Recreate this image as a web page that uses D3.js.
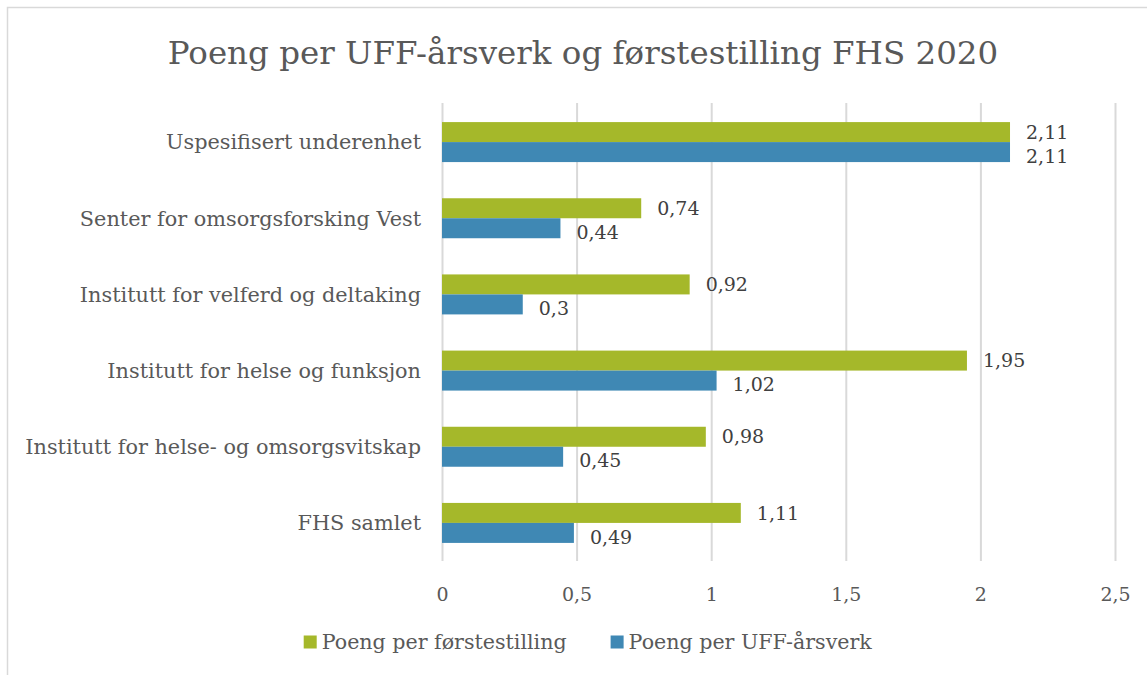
<!doctype html>
<html>
<head>
<meta charset="utf-8">
<style>
  body { margin: 0; background: #fff; }
  svg { display: block; font-family: Georgia, "DejaVu Serif", serif; }
  .axis path { display: none; }
  .axis line { stroke: #d9d9d9; stroke-width: 2px; }
  .axis text { fill: #595959; font-size: 19px; }
</style>
<script src="https://d3js.org/d3.v7.min.js"></script>
</head>
<body>
<script>
// data
var categories = [
  'Uspesifisert underenhet',
  'Senter for omsorgsforsking Vest',
  'Institutt for velferd og deltaking',
  'Institutt for helse og funksjon',
  'Institutt for helse- og omsorgsvitskap',
  'FHS samlet'
];
var seriesNames = ['Poeng per førstestilling', 'Poeng per UFF-årsverk'];
var perForstestilling = [2.11, 0.74, 0.92, 1.95, 0.98, 1.11];
var perUffArsverk = [2.11, 0.44, 0.30, 1.02, 0.45, 0.49];
var xTicks = [0, 0.5, 1, 1.5, 2, 2.5];

var W = 1147, H = 675;
var margin = { top: 104, right: 32, bottom: 114, left: 442 };
var width = W - margin.left - margin.right;
var height = H - margin.top - margin.bottom;

var color = d3.scaleOrdinal().domain(seriesNames).range(['#a5b82a', '#3f88b4']);
var comma = d => String(d).replace('.', ',');

var svg = d3.select('body').append('svg')
  .attr('width', W)
  .attr('height', H);

// chart frame (runs off the right and bottom edge)
svg.append('rect')
  .attr('x', 7.5).attr('y', 7.5)
  .attr('width', W + 50).attr('height', H + 50)
  .attr('fill', '#fff')
  .attr('stroke', '#d9d9d9')
  .attr('stroke-width', 1.5);

// title
svg.append('text')
  .text('Poeng per UFF-årsverk og førstestilling FHS 2020')
  .attr('x', 583).attr('y', 64)
  .attr('text-anchor', 'middle')
  .style('font-size', '32.5px')
  .style('fill', '#595959');

var g = svg.append('g')
  .attr('transform', `translate(${margin.left}, ${margin.top})`);

var x = d3.scaleLinear().domain([0, 2.5]).range([0, width]);
var y = d3.scaleBand().domain(categories).range([0, height])
  .paddingInner(0.475).paddingOuter(0.2375);
var y1 = d3.scaleBand().domain(seriesNames).range([0, y.bandwidth()]);

// gridlines + tick labels
g.append('g')
  .attr('class', 'axis')
  .attr('transform', `translate(0, ${height})`)
  .call(d3.axisBottom(x).tickValues(xTicks).tickFormat(comma).tickSize(-height - 1).tickPadding(27))
  .attr('font-family', null)
  .attr('font-size', null);

// category labels
g.selectAll('.cat')
  .data(categories)
  .enter().append('text')
  .attr('class', 'cat')
  .text(d => d)
  .attr('x', -21)
  .attr('y', d => y(d) + y.bandwidth() / 2)
  .attr('dy', '0.35em')
  .attr('text-anchor', 'end')
  .style('font-size', '20.8px')
  .style('fill', '#595959');

var rows = categories.map((c, i) => ({
  cat: c,
  vals: [
    { s: seriesNames[0], v: perForstestilling[i] },
    { s: seriesNames[1], v: perUffArsverk[i] }
  ]
}));

var grp = g.selectAll('.grp')
  .data(rows)
  .enter().append('g')
  .attr('class', 'grp')
  .attr('transform', d => `translate(0, ${y(d.cat)})`);

grp.selectAll('rect')
  .data(d => d.vals)
  .enter().append('rect')
  .attr('x', x(0))
  .attr('y', d => y1(d.s))
  .attr('width', d => x(d.v) - x(0))
  .attr('height', y1.bandwidth())
  .style('fill', d => color(d.s));

// value labels; the lower one sits a bit further down, as in the reference
grp.selectAll('.val')
  .data(d => d.vals)
  .enter().append('text')
  .attr('class', 'val')
  .text(d => comma(d.v))
  .attr('x', d => x(d.v) + 16)
  .attr('y', (d, i) => y1(d.s) + y1.bandwidth() / 2 + (i ? 4 : 0))
  .attr('dy', '0.35em')
  .style('font-size', '19px')
  .style('fill', '#404040');

// legend
var legend = svg.append('g').attr('transform', 'translate(0, 642)');
var items = legend.selectAll('.legend')
  .data(seriesNames)
  .enter().append('g')
  .attr('class', 'legend');

items.append('rect')
  .attr('y', -6.5)
  .attr('width', 13).attr('height', 13)
  .style('fill', color);

items.append('text')
  .text(d => d)
  .attr('x', 18)
  .attr('dy', '0.35em')
  .style('font-size', '20.6px')
  .style('fill', '#595959');

var pos = 0, offs = [];
items.each(function() {
  offs.push(pos);
  pos += this.getBBox().width + 44;
});
var total = pos - 44;
var start = 588 - total / 2;
items.attr('transform', (d, i) => `translate(${start + offs[i]}, 0)`);
</script>
</body>
</html>
